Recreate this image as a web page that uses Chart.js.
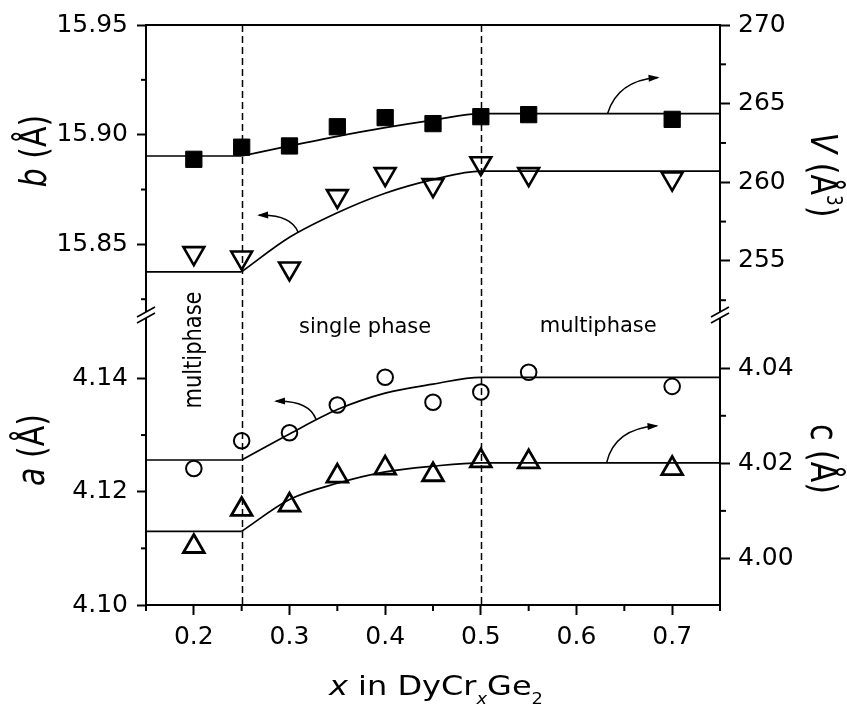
<!DOCTYPE html>
<html>
<head>
<meta charset="utf-8">
<script src="https://cdn.jsdelivr.net/npm/chart.js@4.4.1/dist/chart.umd.min.js"></script>
<style>
  html, body { margin: 0; padding: 0; background: #fff; }
  canvas { display: block; }
</style>
</head>
<body>
<canvas id="latticeChart" width="847" height="704"></canvas>
<script>
/* DyCr_xGe2 lattice parameters vs Cr content, broken-axis layout */

const X_PTS  = [0.20, 0.25, 0.30, 0.35, 0.40, 0.45, 0.50, 0.55, 0.70];
const V_VALS = [261.46, 262.23, 262.31, 263.53, 264.11, 263.73, 264.17, 264.30, 264.00];   // cell volume (filled squares)
const B_VALS = [15.846, 15.844, 15.839, 15.872, 15.882, 15.877, 15.887, 15.882, 15.880];   // b (down triangles)
const A_VALS = [4.1241, 4.1290, 4.1304, 4.1353, 4.1402, 4.1358, 4.1376, 4.1411, 4.1386];   // a (circles)
const C_VALS = [4.0025, 4.0103, 4.0112, 4.0173, 4.0190, 4.0176, 4.0205, 4.0203, 4.0189];   // c (up triangles)

/* guide lines: flat, rising across the single phase range, flat again */
const FIT_X = [0.15, 0.25, 0.30, 0.35, 0.40, 0.45, 0.50, 0.75];
const V_FIT = [261.67, 261.67, 262.31, 262.92, 263.47, 263.95, 264.37, 264.37];
const B_FIT = [15.8375, 15.8375, 15.8532, 15.8644, 15.8733, 15.8795, 15.8834, 15.8834];
const A_FIT = [4.1256, 4.1256, 4.1302, 4.1345, 4.1374, 4.1390, 4.1402, 4.1402];
const C_FIT = [4.0057, 4.0057, 4.0124, 4.0158, 4.0182, 4.0194, 4.0201, 4.0201];

const PHASE_BOUNDS = [0.25, 0.50];

const X_TICKS = [0.15, 0.20, 0.25, 0.30, 0.35, 0.40, 0.45, 0.50, 0.55, 0.60, 0.65, 0.70, 0.75];
const X_MAJOR = [0.2, 0.3, 0.4, 0.5, 0.6, 0.7];
const B_TICKS = [15.825, 15.85, 15.875, 15.90, 15.925, 15.95];
const B_MAJOR = [15.85, 15.90, 15.95];
const V_TICKS = [252.5, 255, 257.5, 260, 262.5, 265, 267.5, 270];
const V_MAJOR = [255, 260, 265, 270];
const A_TICKS = [4.10, 4.11, 4.12, 4.13, 4.14];
const A_MAJOR = [4.10, 4.12, 4.14];
const C_TICKS = [4.00, 4.01, 4.02, 4.03, 4.04];
const C_MAJOR = [4.00, 4.02, 4.04];

const FONT = '"DejaVu Sans", sans-serif';
Chart.defaults.font.family = FONT;
Chart.defaults.color = '#000';

const near = (list, v) => list.some(m => Math.abs(m - v) < 1e-6);
const pts  = (xs, ys) => xs.map((x, i) => ({ x, y: ys[i] }));

const MAJOR_OF = { x: X_MAJOR, yB: B_MAJOR, yA: A_MAJOR, yV: V_MAJOR, yC: C_MAJOR };

function yAxis(position, min, max, ticks, major, digits) {
  const left = position === 'left';
  return {
    type: 'linear',
    position,
    stack: position,
    stackWeight: 1,
    min, max,
    afterBuildTicks: s => { s.ticks = ticks.map(value => ({ value })); },
    afterFit: s => { s.width = left ? 146 : 127; },
    ticks: {
      autoSkip: false,
      padding: left ? 9 : 8,
      font: { size: 25 },
      color: '#000',
      callback: v => near(major, v) ? v.toFixed(digits) : '',
    },
    grid: {
      drawOnChartArea: false,
      tickLength: left ? 9 : 10,
      tickWidth: 2,
      tickColor: c => (c.tick && near(major, c.tick.value)) ? '#000' : 'rgba(0,0,0,0)',
    },
    border: { color: '#000', width: 2 },
  };
}

function markers(axisID, ys, style) {
  return Object.assign({
    type: 'line', yAxisID: axisID, data: pts(X_PTS, ys), showLine: false,
    borderColor: '#000', backgroundColor: 'rgba(0,0,0,0)',
  }, style);
}

function fitLine(axisID, ys, from, to, smooth) {
  return {
    type: 'line', yAxisID: axisID,
    data: pts(FIT_X.slice(from, to), ys.slice(from, to)),
    borderColor: '#000', borderWidth: 1.7, pointRadius: 0,
    cubicInterpolationMode: smooth ? 'monotone' : 'default', tension: 0,
  };
}

/* ---- text helpers (italics, sub/superscripts, stretch) ---- */
function measureParts(ctx, parts, size) {
  let total = 0;
  const items = parts.map(p => {
    const small = p.sub || p.sup;
    const fs = small ? size * 0.56 : size;
    const font = `${p.it ? 'italic ' : ''}${fs}px ${FONT}`;
    ctx.font = font;
    const w = ctx.measureText(p.t).width;
    total += w;
    return { t: p.t, font, w, dy: p.sub ? size * 0.34 : p.sup ? -size * 0.42 : 0 };
  });
  return { items, total };
}

function drawLabel(ctx, parts, o) {
  ctx.save();
  ctx.translate(o.x, o.y);
  ctx.rotate(o.rot || 0);
  const m = measureParts(ctx, parts, o.size);
  const sx = o.width ? o.width / m.total : (o.sx || 1);
  ctx.scale(sx, o.sy || 1);
  ctx.fillStyle = '#000';
  ctx.textBaseline = 'alphabetic';
  ctx.textAlign = 'left';
  let x = -m.total / 2;
  for (const it of m.items) {
    ctx.font = it.font;
    ctx.fillText(it.t, x, it.dy);
    x += it.w;
  }
  ctx.restore();
}

/* curved pointer from a guide line towards its axis */
function drawArrow(ctx, sx, sy, cx, cy, tx, ty) {
  ctx.beginPath();
  ctx.moveTo(sx, sy);
  ctx.quadraticCurveTo(cx, cy, tx, ty);
  ctx.lineWidth = 1.5;
  ctx.stroke();
  const ang = Math.atan2(ty - cy, tx - cx);
  const L = 9, W = 3.5;
  ctx.beginPath();
  ctx.moveTo(tx + Math.cos(ang) * 2, ty + Math.sin(ang) * 2);
  ctx.lineTo(tx - Math.cos(ang) * L - Math.sin(ang) * W, ty - Math.sin(ang) * L + Math.cos(ang) * W);
  ctx.lineTo(tx - Math.cos(ang) * L + Math.sin(ang) * W, ty - Math.sin(ang) * L - Math.cos(ang) * W);
  ctx.closePath();
  ctx.fill();
}

const decorations = {
  id: 'decorations',
  beforeDatasetsDraw(chart) {
    const { ctx, chartArea: ca, scales } = chart;
    ctx.save();
    ctx.strokeStyle = '#000';
    ctx.lineWidth = 1.5;
    ctx.setLineDash([7, 4]);
    PHASE_BOUNDS.forEach(v => {
      const px = Math.round(scales.x.getPixelForValue(v)) + 0.5;
      ctx.beginPath();
      ctx.moveTo(px, ca.top);
      ctx.lineTo(px, ca.bottom);
      ctx.stroke();
    });
    ctx.restore();
  },
  afterDraw(chart) {
    const { ctx, chartArea: ca, scales } = chart;
    ctx.save();
    ctx.strokeStyle = '#000';
    ctx.fillStyle = '#000';

    // top frame
    ctx.lineWidth = 2;
    ctx.beginPath();
    ctx.moveTo(ca.left - 1, ca.top);
    ctx.lineTo(ca.right + 1, ca.top);
    ctx.stroke();

    // minor ticks
    Object.entries(MAJOR_OF).forEach(([id, major]) => {
      const s = scales[id];
      s.ticks.filter(t => !near(major, t.value)).forEach(t => {
        const p = s.getPixelForValue(t.value);
        ctx.beginPath();
        if (id === 'x') { ctx.moveTo(p, s.top); ctx.lineTo(p, s.top + 6); }
        else if (s.position === 'left') { ctx.moveTo(s.right, p); ctx.lineTo(s.right - 5, p); }
        else { ctx.moveTo(s.left, p); ctx.lineTo(s.left + 6, p); }
        ctx.stroke();
      });
    });

    // axis breaks between the two panels
    const split = scales.yB.bottom;
    [ca.left, ca.right].forEach(ax => {
      ctx.fillStyle = '#fff';
      ctx.fillRect(ax - 3, split - 3, 6, 6);
      ctx.lineWidth = 1.6;
      ctx.beginPath();
      [-3, 3].forEach(off => {
        ctx.moveTo(ax - 9, split + off + 5);
        ctx.lineTo(ax + 9, split + off - 5);
      });
      ctx.stroke();
    });
    ctx.fillStyle = '#000';

    // arrows, anchored on the guide lines
    const X = v => scales.x.getPixelForValue(v);
    const a1 = [X(0.6325), scales.yV.getPixelForValue(264.37)];
    const a2 = [X(0.309), scales.yB.getPixelForValue(15.8555)];
    const a3 = [X(0.3277), scales.yA.getPixelForValue(4.1328)];
    const a4 = [X(0.6314), scales.yC.getPixelForValue(4.0201)];
    drawArrow(ctx, a1[0], a1[1], a1[0] + 10, a1[1] - 33, a1[0] + 50, a1[1] - 36);
    drawArrow(ctx, a2[0], a2[1], a2[0] - 7, a2[1] - 18, a2[0] - 39, a2[1] - 17);
    drawArrow(ctx, a3[0], a3[1], a3[0] - 7, a3[1] - 19, a3[0] - 40, a3[1] - 18);
    drawArrow(ctx, a4[0], a4[1], a4[0] + 8, a4[1] - 34, a4[0] + 50, a4[1] - 37);

    // region labels
    drawLabel(ctx, [{ t: 'single phase' }], { x: X(0.379), y: split + 18, size: 21 });
    drawLabel(ctx, [{ t: 'multiphase' }], { x: X(0.6227), y: split + 17, size: 21 });
    drawLabel(ctx, [{ t: 'multiphase' }], { x: X(0.2) + 7, y: 350, rot: -Math.PI / 2, size: 21, sy: 1.15 });

    // axis titles
    drawLabel(ctx, [{ t: 'b', it: true }, { t: ' (Å)' }], { x: 46, y: 151, rot: -Math.PI / 2, size: 30, sy: 1.25 });
    drawLabel(ctx, [{ t: 'a', it: true }, { t: ' (Å)' }], { x: 44, y: 450, rot: -Math.PI / 2, size: 30, sy: 1.25 });
    drawLabel(ctx, [{ t: 'V', it: true }, { t: ' (Å' }, { t: '3', sup: true }, { t: ')' }], { x: 811, y: 175, rot: Math.PI / 2, size: 30, sy: 1.25 });
    drawLabel(ctx, [{ t: 'c' }, { t: ' (Å)' }], { x: 811, y: 459, rot: Math.PI / 2, size: 30, sy: 1.25 });
    drawLabel(ctx, [{ t: 'x', it: true }, { t: ' in DyCr' }, { t: 'x', it: true, sub: true }, { t: 'Ge' }, { t: '2', sub: true }],
      { x: 436, y: 695, size: 27, width: 214 });
    ctx.restore();
  },
};

new Chart(document.getElementById('latticeChart'), {
  data: {
    datasets: [
      markers('yV', V_VALS, { pointStyle: 'rect', pointRadius: 11.5, backgroundColor: '#000', borderWidth: 1 }),
      markers('yB', B_VALS, { pointStyle: 'triangle', pointRotation: 180, pointRadius: 12, borderWidth: 2.6 }),
      markers('yA', A_VALS, { pointStyle: 'circle', pointRadius: 7.8, borderWidth: 2 }),
      markers('yC', C_VALS, { pointStyle: 'triangle', pointRadius: 12, borderWidth: 2.8 }),
      fitLine('yV', V_FIT, 0, 2, false), fitLine('yV', V_FIT, 1, 8, true),
      fitLine('yB', B_FIT, 0, 2, false), fitLine('yB', B_FIT, 1, 8, true),
      fitLine('yA', A_FIT, 0, 2, false), fitLine('yA', A_FIT, 1, 8, true),
      fitLine('yC', C_FIT, 0, 2, false), fitLine('yC', C_FIT, 1, 8, true),
    ],
  },
  options: {
    responsive: false,
    animation: false,
    events: [],
    layout: { padding: { top: 25, left: 0, right: 0, bottom: 0 } },
    plugins: { legend: { display: false }, tooltip: { enabled: false } },
    scales: {
      x: {
        type: 'linear', position: 'bottom', min: 0.15, max: 0.75,
        afterBuildTicks: s => { s.ticks = X_TICKS.map(value => ({ value })); },
        afterFit: s => { s.height = 99; },
        ticks: {
          autoSkip: false, maxRotation: 0, padding: 7, font: { size: 25 }, color: '#000',
          callback: v => near(X_MAJOR, v) ? v.toFixed(1) : '',
        },
        grid: {
          drawOnChartArea: false, tickLength: 10, tickWidth: 2,
          tickColor: c => (c.tick && near(X_MAJOR, c.tick.value)) ? '#000' : 'rgba(0,0,0,0)',
        },
        border: { color: '#000', width: 2 },
      },
      // left-hand stack is laid out in reverse order, so the lower panel comes first
      yA: yAxis('left', 4.10, 4.1512, A_TICKS, A_MAJOR, 2),
      yB: yAxis('left', 15.8178, 15.95, B_TICKS, B_MAJOR, 2),
      yV: yAxis('right', 251.56, 270, V_TICKS, V_MAJOR, 0),
      yC: yAxis('right', 3.9902, 4.0512, C_TICKS, C_MAJOR, 2),
    },
  },
  plugins: [decorations],
});
</script>
</body>
</html>
